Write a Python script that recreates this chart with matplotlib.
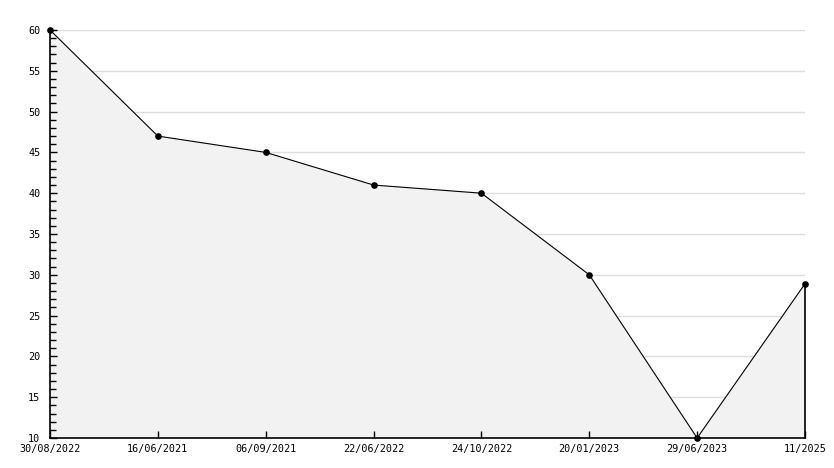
import matplotlib.pyplot as plt
from matplotlib.ticker import MultipleLocator

# data
labels = ["30/08/2022", "16/06/2021", "06/09/2021", "22/06/2022",
          "24/10/2022", "20/01/2023", "29/06/2023", "11/2025"]
values = [60, 47, 45, 41, 40, 30, 10, 28.9]

plt.rcParams['font.family'] = 'DejaVu Sans Mono'

fig = plt.figure(figsize=(8.34, 4.68), dpi=100)
ax = fig.add_axes([50 / 834, 1 - 438 / 468, 755 / 834, 408 / 468])

x = list(range(len(labels)))

# horizontal grid, drawn under the filled area
for yv in range(15, 61, 5):
    ax.axhline(yv, color='#dddddd', lw=1, zorder=0)

ax.fill_between(x, values, 10, facecolor='#f2f2f2', edgecolor='none', zorder=1)
ax.plot([x[-1], x[-1]], [10, values[-1]], color='black', lw=1.2, zorder=2,
        clip_on=False)
ax.plot(x, values, color='black', lw=0.8, marker='o', ms=3.8, zorder=3,
        clip_on=False)

ax.set_xlim(0, len(labels) - 1)
ax.set_ylim(10, 60)
ax.set_xticks(x)
ax.set_xticklabels(labels)
ax.yaxis.set_major_locator(MultipleLocator(5))
ax.yaxis.set_minor_locator(MultipleLocator(1))
ax.set_axisbelow(False)

for s in ['top', 'right']:
    ax.spines[s].set_visible(False)
for s in ['left', 'bottom']:
    ax.spines[s].set_linewidth(1.2)

ax.tick_params(axis='y', which='major', direction='in', length=5, width=1,
               labelsize=7.3, pad=7)
ax.tick_params(axis='y', which='minor', direction='in', length=4, width=1)
ax.tick_params(axis='x', direction='in', length=5, width=1, labelsize=7.3, pad=4)

fig.savefig('out.png', dpi=100)
